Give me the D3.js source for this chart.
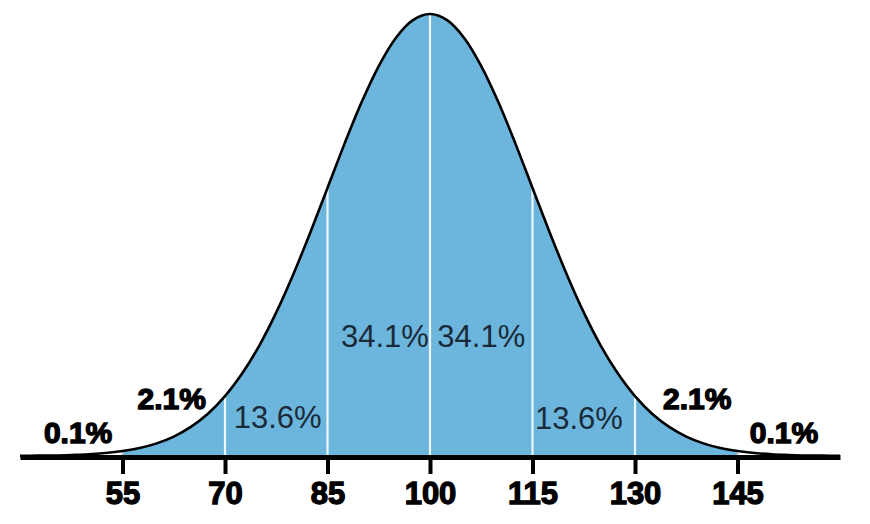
<!DOCTYPE html>
<html><head><meta charset="utf-8">
<script src="https://cdn.jsdelivr.net/npm/d3@7"></script>
<style>
html,body{margin:0;padding:0;background:#fff;}
svg{display:block;}
</style></head>
<body><svg id="chart" width="870" height="524"></svg>
<script>
// IQ scores (x) and density in % per point (y)
const scores = [40,42.5,45,47.5,50,52.5,55,57.5,60,62.5,65,67.5,70,72.5,75,77.5,80,82.5,85,87.5,90,92.5,95,97.5,100,
  102.5,105,107.5,110,112.5,115,117.5,120,122.5,125,127.5,130,132.5,135,137.5,140,142.5,145,147.5,150,152.5,155,157.5,160];
const density = [0.001,0.002,0.003,0.006,0.010,0.018,0.030,0.048,0.076,0.117,0.175,0.254,0.360,0.496,0.663,0.864,1.094,1.347,1.613,1.880,2.130,2.347,2.516,2.623,2.660,
  2.623,2.516,2.347,2.130,1.880,1.613,1.347,1.094,0.864,0.663,0.496,0.360,0.254,0.175,0.117,0.076,0.048,0.030,0.018,0.010,0.006,0.003,0.002,0.001];
const tickValues = [55,70,85,100,115,130,145];
const dividerValues = [55,70,85,100,115,130,145];
const outerLabels = ["0.1%","2.1%","2.1%","0.1%"];
const outerLabelX = [48.5,62.2,139.1,151.8];
const outerLabelY = [0.078,0.283,0.283,0.078];
const innerLabels = ["13.6%","34.1%","34.1%","13.6%"];
const innerLabelX = [77.7,93.4,107.5,121.8];
const innerLabelY = [0.168,0.656,0.656,0.162];

const data = scores.map((s,i)=>({x:s,y:density[i]}));
const svg = d3.select("#chart");
const x = d3.scaleLinear().domain([40,160]).range([20,840]);
const y = d3.scaleLinear().domain([0,2.66]).range([456,14]);

const curve = d3.curveCatmullRom.alpha(0.5);
const line = d3.line().x(d=>x(d.x)).y(d=>y(d.y)).curve(curve);
const area = d3.area().x(d=>x(d.x)).y0(y(0)).y1(d=>y(d.y)).curve(curve);

svg.append("clipPath").attr("id","fillclip").append("rect")
  .attr("x",x(55)).attr("y",0).attr("width",x(145)-x(55)).attr("height",y(0)+2);

svg.append("path").datum(data).attr("d",area).attr("fill","#6cb5dc").attr("clip-path","url(#fillclip)");

function densAt(v){const i=scores.indexOf(v);return density[i];}
svg.selectAll("line.div").data(dividerValues).join("line")
  .attr("class","div")
  .attr("x1",d=>x(d)).attr("x2",d=>x(d))
  .attr("y1",y(0)).attr("y2",d=>y(densAt(d)))
  .attr("stroke",d=>(d===55||d===145)?"#b9c7cf":"#eef7fc").attr("stroke-width",2.2);

svg.append("path").datum(data).attr("d",line).attr("fill","none")
  .attr("stroke","#000").attr("stroke-width",2.6);

// axis
const axis = d3.axisBottom(x).tickValues(tickValues).tickSize(17).tickSizeOuter(0).tickPadding(8);
const g = svg.append("g").attr("transform",`translate(0,${y(0)+1})`).call(axis);
g.select(".domain").attr("stroke","#000").attr("stroke-width",5);
g.selectAll(".tick line").attr("stroke","#000").attr("stroke-width",4);
g.selectAll(".tick text").attr("fill","#000")
  .style("font-family","'Liberation Sans', Arial, sans-serif")
  .style("font-weight","bold").style("font-size","31px")
  .attr("stroke","#000").attr("stroke-width",1.3).attr("dy","0.7em");

svg.selectAll("text.outer").data(outerLabels).join("text")
  .attr("class","outer")
  .attr("x",(d,i)=>x(outerLabelX[i])).attr("y",(d,i)=>y(outerLabelY[i]))
  .attr("text-anchor","middle")
  .style("font-family","'Liberation Sans', Arial, sans-serif")
  .style("font-weight","bold").style("font-size","30px")
  .attr("fill","#000").attr("stroke","#000").attr("stroke-width",1.4)
  .text(d=>d);

svg.selectAll("text.inner").data(innerLabels).join("text")
  .attr("class","inner")
  .attr("x",(d,i)=>x(innerLabelX[i])).attr("y",(d,i)=>y(innerLabelY[i]))
  .attr("text-anchor","middle")
  .style("font-family","'Liberation Sans', Arial, sans-serif")
  .style("font-size","31px")
  .attr("fill","#1b2a38")
  .text(d=>d);
</script></body></html>
